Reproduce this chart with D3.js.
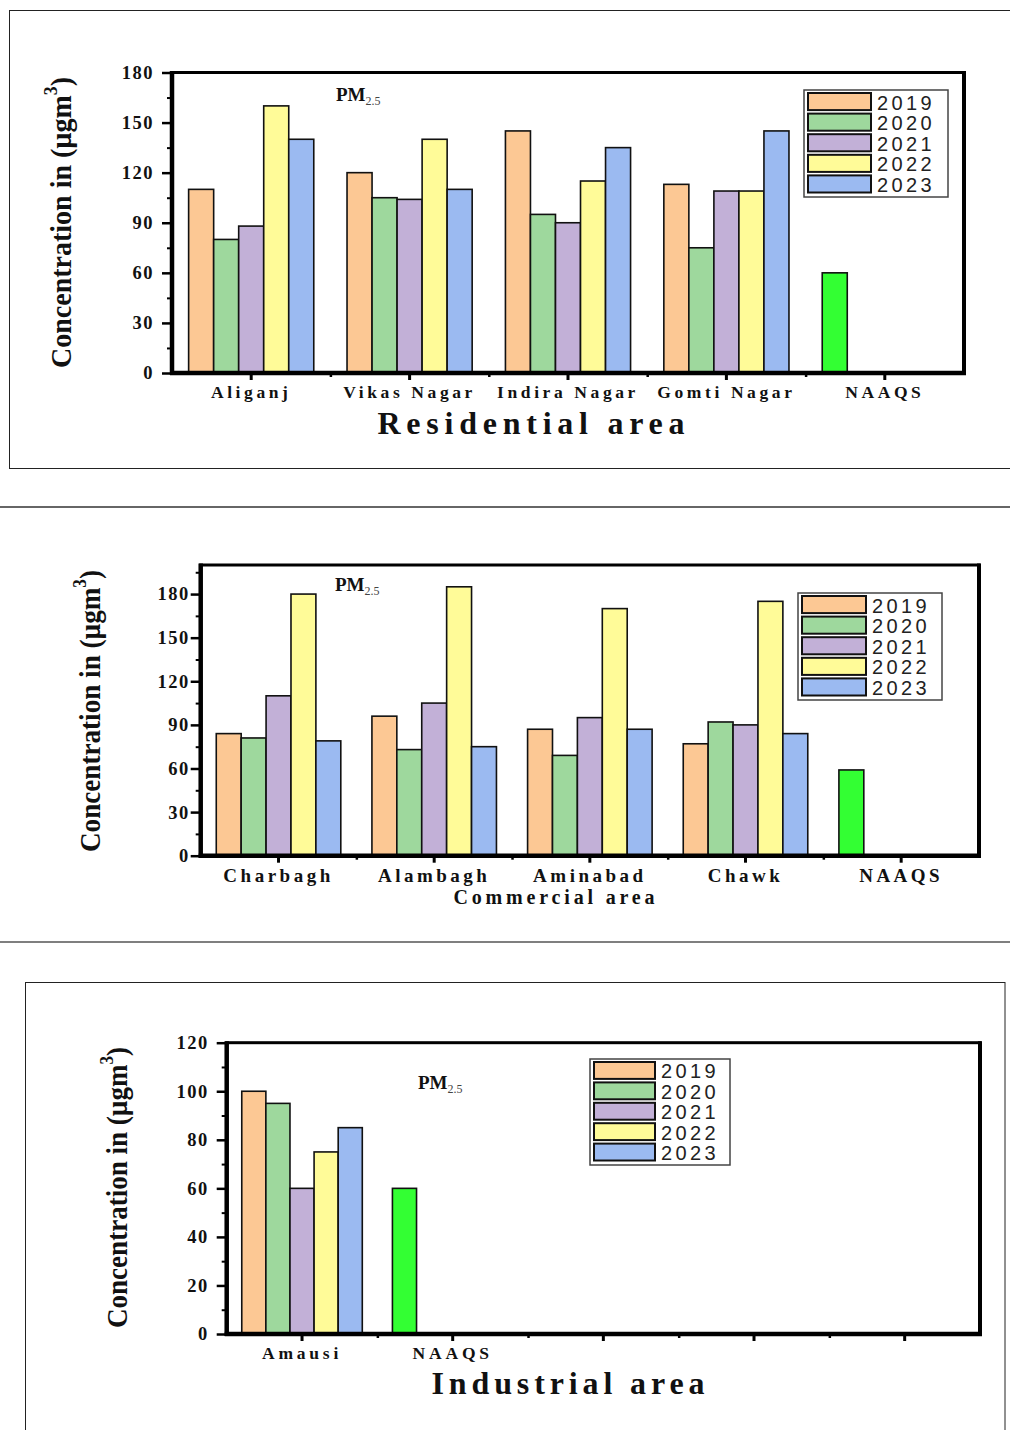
<!DOCTYPE html>
<html><head><meta charset="utf-8">
<script src="https://cdn.jsdelivr.net/npm/d3@7"></script>
<style>body{margin:0;background:#fff}svg{display:block}</style>
</head><body>
<svg id="c" width="1010" height="1430"></svg>
<script>
// ---------- data ----------
const years = ["2019","2020","2021","2022","2023"];
const yearColors = ["#fcc894","#9ed89d","#c2b0d7","#fffb98","#9bbaf1"];
const naaqsColor = "#33ff33";

const residentialSites = ["Aliganj","Vikas Nagar","Indira Nagar","Gomti Nagar","NAAQS"];
const residential2019 = [110,120,145,113];
const residential2020 = [80,105,95,75];
const residential2021 = [88,104,90,109];
const residential2022 = [160,140,115,109];
const residential2023 = [140,110,135,145];
const residentialNAAQS = 60;
const residentialYTicks = [0,30,60,90,120,150,180];

const commercialSites = ["Charbagh","Alambagh","Aminabad","Chawk","NAAQS"];
const commercial2019 = [84,96,87,77];
const commercial2020 = [81,73,69,92];
const commercial2021 = [110,105,95,90];
const commercial2022 = [180,185,170,175];
const commercial2023 = [79,75,87,84];
const commercialNAAQS = 59;
const commercialYTicks = [0,30,60,90,120,150,180];

const industrialSites = ["Amausi","NAAQS","","",""];
const industrial2019 = [100];
const industrial2020 = [95];
const industrial2021 = [60];
const industrial2022 = [75];
const industrial2023 = [85];
const industrialNAAQS = 60;
const industrialYTicks = [0,20,40,60,80,100,120];

// ---------- drawing ----------
const svg = d3.select("#c");
const SERIF = "'Liberation Serif','Times New Roman',serif";
const SANS = "'Liberation Sans',Arial,sans-serif";

// outer frames / separators
svg.append("rect").attr("x",9.5).attr("y",10.5).attr("width",1020).attr("height",458)
  .attr("fill","none").attr("stroke","#222").attr("stroke-width",1);
svg.append("line").attr("x1",0).attr("x2",1010).attr("y1",507).attr("y2",507)
  .attr("stroke","#333").attr("stroke-width",1.5);
svg.append("line").attr("x1",0).attr("x2",1010).attr("y1",942).attr("y2",942)
  .attr("stroke","#555").attr("stroke-width",1.5);
svg.append("rect").attr("x",25.5).attr("y",982.5).attr("width",979.5).attr("height",480)
  .attr("fill","none").attr("stroke","#222").attr("stroke-width",1);

function drawPanel(cfg){
  const g = svg.append("g");
  const n = cfg.sites.length;
  const x = d3.scaleBand().domain(d3.range(n)).range([cfg.x0,cfg.x1]).padding(0);
  const y = d3.scaleLinear().domain([0,cfg.yMax]).range([cfg.y1,cfg.y0]);
  const groupW = x.bandwidth()*cfg.groupFrac;
  const inner = d3.scaleBand().domain(years).range([0,groupW]).padding(0);
  const off = (x.bandwidth()-groupW)/2;

  // bars
  cfg.series.forEach((vals,j)=>{
    g.selectAll(null).data(vals).enter().append("rect")
      .attr("x",(v,i)=>x(i)+off+inner(years[j]))
      .attr("y",v=>y(v))
      .attr("width",inner.bandwidth())
      .attr("height",v=>y(0)-y(v))
      .attr("fill",yearColors[j]).attr("stroke","#111").attr("stroke-width",1.6);
  });
  const ni = cfg.naaqsIndex;
  g.append("rect")
    .attr("x",x(ni)+off+inner(years[0]))
    .attr("y",y(cfg.naaqs))
    .attr("width",inner.bandwidth())
    .attr("height",y(0)-y(cfg.naaqs))
    .attr("fill",naaqsColor).attr("stroke","#111").attr("stroke-width",1.6);

  // y axis
  const ya = g.append("g").attr("transform",`translate(${cfg.x0},0)`)
    .call(d3.axisLeft(y).tickValues(cfg.yTicks).tickSize(cfg.yTickSize).tickPadding(cfg.yPad));
  ya.select(".domain").remove();
  ya.selectAll("line").attr("stroke","#000").attr("stroke-width",2.5);
  ya.selectAll("text").attr("font-family",SERIF).attr("font-weight","bold")
    .attr("font-size",18.5).attr("fill","#111").attr("letter-spacing",1.5);
  const ym = g.append("g").attr("transform",`translate(${cfg.x0},0)`)
    .call(d3.axisLeft(y).tickValues(cfg.yMinor).tickSize(5).tickFormat(""));
  ym.select(".domain").remove();
  ym.selectAll("line").attr("stroke","#000").attr("stroke-width",2);

  // x axis
  const xa = g.append("g").attr("transform",`translate(0,${cfg.y1})`)
    .call(d3.axisBottom(x).tickSize(7).tickPadding(cfg.xPad).tickFormat(i=>cfg.sites[i]));
  xa.select(".domain").remove();
  xa.selectAll("line").attr("stroke","#000").attr("stroke-width",3);
  xa.selectAll("text").attr("font-family",SERIF).attr("font-weight","bold")
    .attr("font-size",cfg.xFont).attr("fill","#111").attr("letter-spacing",cfg.xSpacing);
  const xl = d3.scaleLinear().domain([0,n]).range([cfg.x0,cfg.x1]);
  const xm = g.append("g").attr("transform",`translate(0,${cfg.y1})`)
    .call(d3.axisBottom(xl).tickValues(d3.range(1,n)).tickSize(4).tickFormat(""));
  xm.select(".domain").remove();
  xm.selectAll("line").attr("stroke","#000").attr("stroke-width",2.5);

  // frame
  g.append("rect").attr("x",cfg.x0).attr("y",cfg.y0).attr("width",cfg.x1-cfg.x0).attr("height",cfg.y1-cfg.y0)
    .attr("fill","none").attr("stroke","#000").attr("stroke-width",3);
  g.append("line").attr("x1",cfg.x0).attr("x2",cfg.x0).attr("y1",cfg.y0-1.5).attr("y2",cfg.y1+2)
    .attr("stroke","#000").attr("stroke-width",4.5);
  g.append("line").attr("x1",cfg.x0-2).attr("x2",cfg.x1+2).attr("y1",cfg.y1).attr("y2",cfg.y1)
    .attr("stroke","#000").attr("stroke-width",4.5);
  g.append("line").attr("x1",cfg.x1).attr("x2",cfg.x1).attr("y1",cfg.y0-1.5).attr("y2",cfg.y1)
    .attr("stroke","#000").attr("stroke-width",4);

  // PM2.5 label
  const pm = g.append("text").attr("x",cfg.pmX).attr("y",cfg.pmY)
    .attr("font-family",SERIF).attr("font-weight","bold").attr("font-size",19).attr("fill","#111");
  pm.append("tspan").text("PM");
  pm.append("tspan").attr("dy",4).attr("font-size",12).attr("font-weight","normal").attr("fill","#444").text("2.5");

  // legend
  const L = cfg.legend;
  g.append("rect").attr("x",L.x).attr("y",L.y).attr("width",L.w).attr("height",L.h)
    .attr("fill","#fff").attr("stroke","#444").attr("stroke-width",1.5);
  const rowH = (L.h-4)/years.length;
  years.forEach((yr,j)=>{
    g.append("rect").attr("x",L.x+4).attr("y",L.y+3+j*rowH).attr("width",L.sw).attr("height",rowH-3.5)
      .attr("fill",yearColors[j]).attr("stroke","#111").attr("stroke-width",2);
    g.append("text").attr("x",L.x+L.sw+10).attr("y",L.y+3+j*rowH+rowH-4)
      .attr("font-family",SANS).attr("font-size",20).attr("letter-spacing",3.4).attr("fill","#222").text(yr);
  });

  // y title
  const T = cfg.yTitle;
  const yt = g.append("text").attr("transform",`translate(${T.x},${T.yBottom}) rotate(-90)`)
    .attr("font-family",SERIF).attr("font-weight","bold").attr("font-size",30).attr("fill","#111")
    .attr("textLength",T.len).attr("lengthAdjust","spacingAndGlyphs");
  yt.append("tspan").text("Concentration in (\u00b5gm");
  yt.append("tspan").attr("dy",-14).attr("font-size",19).text("3");
  yt.append("tspan").attr("dy",14).text(")");

  // x title
  g.append("text").attr("x",cfg.xt.x).attr("y",cfg.xt.y).attr("text-anchor","middle")
    .attr("font-family",SERIF).attr("font-weight","bold").attr("font-size",cfg.xt.size).attr("fill","#111")
    .attr("textLength",cfg.xt.len).attr("lengthAdjust","spacing").text(cfg.xt.text);
}

drawPanel({
  sites: residentialSites,
  series: [residential2019,residential2020,residential2021,residential2022,residential2023],
  naaqs: residentialNAAQS, naaqsIndex: 4,
  x0:172, x1:964, y0:72.5, y1:373, yMax:180, groupFrac:0.79,
  yTicks: residentialYTicks, yMinor: d3.range(15,180,30), yTickSize:10, yPad:8,
  xPad:6, xFont:17.5, xSpacing:3.6,
  pmX:336, pmY:101,
  legend:{x:804,y:90,w:144,h:107,sw:63},
  yTitle:{x:71,yBottom:368,len:291},
  xt:{x:531,y:434,size:32,len:307,text:"Residential area"}
});

drawPanel({
  sites: commercialSites,
  series: [commercial2019,commercial2020,commercial2021,commercial2022,commercial2023],
  naaqs: commercialNAAQS, naaqsIndex: 4,
  x0:200.7, x1:979, y0:565, y1:855.7, yMax:200, groupFrac:0.8,
  yTicks: commercialYTicks, yMinor: d3.range(15,200,30), yTickSize:10, yPad:1,
  xPad:6, xFont:19, xSpacing:3.5,
  pmX:335, pmY:591,
  legend:{x:798,y:593,w:144,h:107,sw:64},
  yTitle:{x:100,yBottom:852,len:282},
  xt:{x:554,y:904,size:20,len:201,text:"Commercial area"}
});

drawPanel({
  sites: industrialSites,
  series: [industrial2019,industrial2020,industrial2021,industrial2022,industrial2023],
  naaqs: industrialNAAQS, naaqsIndex: 1,
  x0:226.7, x1:980, y0:1042.7, y1:1334, yMax:120, groupFrac:0.8,
  yTicks: industrialYTicks, yMinor: d3.range(10,120,20), yTickSize:10, yPad:8,
  xPad:6, xFont:17.5, xSpacing:3.8,
  pmX:418, pmY:1089,
  legend:{x:590,y:1059,w:140,h:106,sw:61},
  yTitle:{x:127,yBottom:1328,len:281},
  xt:{x:568,y:1394,size:32,len:273,text:"Industrial area"}
});
</script>
</body></html>
